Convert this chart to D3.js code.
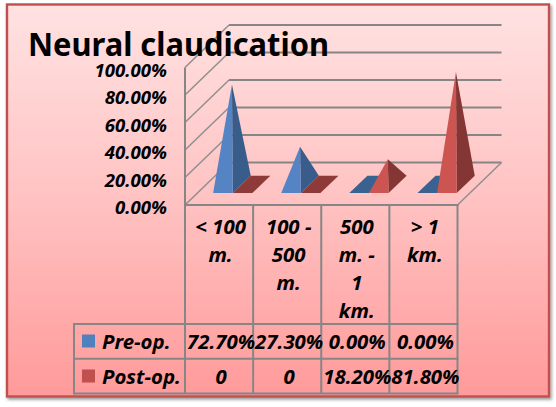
<!DOCTYPE html>
<html><head><meta charset="utf-8">
<script src="https://cdnjs.cloudflare.com/ajax/libs/d3/7.8.5/d3.min.js"></script>
<style>html,body{margin:0;padding:0;background:#fff}svg{display:block}
text{font-family:"Noto Sans",sans-serif;fill:#000}</style></head><body>
<script>
const chartTitle = "Neural claudication";
const categories = ["< 100 m.", "100 - 500 m.", "500 m. - 1 km.", "> 1 km."];
const categoryLines = [["< 100","m."],["100 -","500","m."],["500","m. -","1","km."],["> 1","km."]];
const seriesNames = ["Pre-op.", "Post-op."];
const preOp = [0.727, 0.273, 0, 0];
const postOp = [0, 0, 0.182, 0.818];
const preOpLabels = ["72.70%", "27.30%", "0.00%", "0.00%"];
const postOpLabels = ["0", "0", "18.20%", "81.80%"];
const yTicks = [0, 0.2, 0.4, 0.6, 0.8, 1];

const W = 556, H = 407;
const svg = d3.select("body").append("svg").attr("width", W).attr("height", H);
const defs = svg.append("defs");
const grad = defs.append("linearGradient").attr("id","bg").attr("x1",0).attr("y1",0).attr("x2",0).attr("y2",1);
[[0,"#ffe2e2"],[0.5,"#ffc2c2"],[1,"#ff9a9a"]].forEach(s=>grad.append("stop").attr("offset",s[0]).attr("stop-color",s[1]));
const sh = defs.append("filter").attr("id","sh").attr("x","-5%").attr("y","-5%").attr("width","110%").attr("height","110%");
sh.append("feDropShadow").attr("dx",1.5).attr("dy",2).attr("stdDeviation",1.8).attr("flood-color","#000").attr("flood-opacity",0.4);
svg.append("rect").attr("x",7).attr("y",4.5).attr("width",542).attr("height",392)
  .attr("fill","url(#bg)").attr("stroke","#c0504d").attr("stroke-width",2.4).attr("filter","url(#sh)");

const GRID = "#868686";
const x0 = 185, x1 = 457.5, yFloor = 205;
const depthX = 44, depthY = 42.5, wallH = 137.5;
const x = d3.scaleBand().domain(categories).range([x0, x1]);
const h = d3.scaleLinear().domain([0,1]).range([0, wallH]);
const yFront = d3.scaleLinear().domain([0,1]).range([yFloor, yFloor - wallH]);
const line = (g,a,b,c,d,w=2,col=GRID)=>g.append("line").attr("x1",a).attr("y1",b).attr("x2",c).attr("y2",d)
  .attr("stroke",col).attr("stroke-width",w);

const grid = svg.append("g");
yTicks.forEach(t=>{
  const yb = yFront(t) - depthY;
  line(grid, x0, yFront(t), x0+depthX, yb, 1.5, "#8f8f8f");
  line(grid, x0+depthX, yb, x1+depthX, yb, 2);
});
line(grid, x1, yFloor, x1+depthX, yFloor-depthY, 1.5, "#8f8f8f");
line(grid, x0, yFloor, x0, yFront(1), 2);

// pyramids
const colors = [
  {front:"#5484c4", side:"#385d8a", flat:"#3a6291"},
  {front:"#cc5552", side:"#843634", flat:"#8e3a38"}
];
const fFront = 0.28, fBack = 0.69, gap = 15.8, bw = 19.6;
const project = (px, f) => [px + depthX*f, yFloor - depthY*f];
const marks = svg.append("g");
const poly = (pts, fill)=>marks.append("polygon").attr("points", pts.map(p=>p.join(",")).join(" ")).attr("fill",fill);
categories.forEach((c,i)=>{
  [preOp, postOp].forEach((series,s)=>{
    const left = x(c) + gap + s*bw, right = left + bw, v = series[i], col = colors[s];
    const fl = project(left,fFront), fr = project(right,fFront), br = project(right,fBack), bl = project(left,fBack);
    if (v === 0) { poly([fl,fr,br,bl], col.flat); return; }
    const mid = project((left+right)/2,(fFront+fBack)/2);
    const apex = [mid[0], mid[1]-h(v)];
    poly([fr,br,apex], col.side);
    poly([fl,fr,apex], col.front);
  });
});

// y axis labels
const yAxis = svg.append("g").attr("transform","translate(167,3)")
  .call(d3.axisLeft(yFront).tickValues(yTicks).tickSize(0).tickPadding(0).tickFormat(d=>d3.format(".2%")(d)));
yAxis.select(".domain").remove();
yAxis.selectAll("text").style("font","italic 700 18.6px 'Noto Sans', sans-serif").attr("fill","#000");

// table
const rowTop = 324, rowMid = 358.7, rowBot = 393.5, legLeft = 74;
const tbl = svg.append("g");
categories.forEach(c=>line(tbl, x(c), yFloor, x(c), rowBot));
line(tbl, x1, yFloor, x1, rowBot);
line(tbl, x0-1, yFloor, x1+1, yFloor);
line(tbl, legLeft, rowTop, x1+1, rowTop);
line(tbl, legLeft, rowMid, x1+1, rowMid);
line(tbl, legLeft, rowBot, x1+1, rowBot);
line(tbl, legLeft, rowTop-1, legLeft, rowBot+1);

const txt = (s,px,py,anchor="middle",size=20.4)=>svg.append("text").text(s).attr("x",px).attr("y",py)
  .attr("text-anchor",anchor).attr("dominant-baseline","central")
  .style("font",`italic 700 ${size}px 'Noto Sans', sans-serif`);
categories.forEach((c,i)=>{
  categoryLines[i].forEach((l,j)=>txt(l, x(c)+x.bandwidth()/2+1.5, 226+j*28));
  txt(preOpLabels[i], x(c)+x.bandwidth()/2+2, 340.5);
  txt(postOpLabels[i], x(c)+x.bandwidth()/2+2, 375.5);
});
[[seriesNames[0],341,"#4f81bd"],[seriesNames[1],376,"#c0504d"]].forEach(r=>{
  svg.append("rect").attr("x",82).attr("y",r[1]-6.5).attr("width",13).attr("height",13).attr("fill",r[2]);
  txt(r[0],102,r[1]-0.5,"start");
});

svg.append("text").text(chartTitle).attr("x",28).attr("y",56)
  .attr("textLength",301).attr("lengthAdjust","spacingAndGlyphs")
  .style("font","700 32px 'Noto Sans', sans-serif");
</script></body></html>
